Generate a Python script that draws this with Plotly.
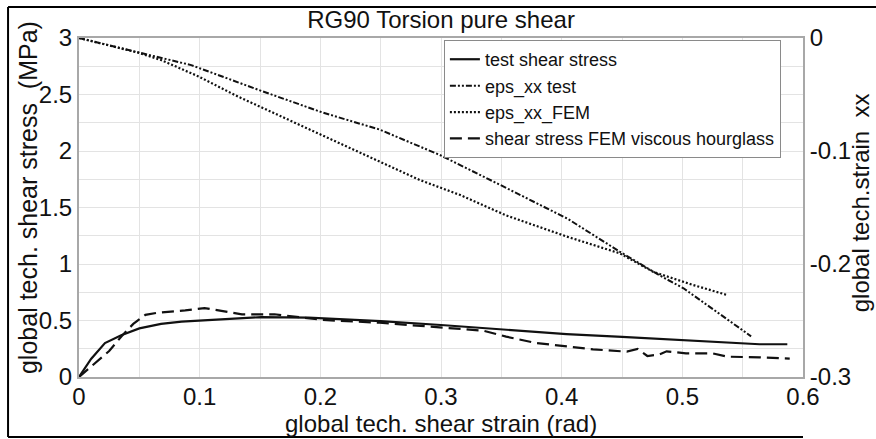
import plotly.graph_objects as go

# ---- data ----
test_x = [0.0, 0.010, 0.0215, 0.035, 0.05, 0.068, 0.085, 0.1, 0.125, 0.151, 0.19, 0.2, 0.25, 0.3, 0.35, 0.404, 0.45, 0.5, 0.564, 0.587]
test_stress = [0.0, 0.16, 0.30, 0.37, 0.43, 0.47, 0.49, 0.50, 0.515, 0.53, 0.525, 0.52, 0.495, 0.46, 0.42, 0.38, 0.355, 0.327, 0.29, 0.29]

fem_x = [0.0, 0.013, 0.025, 0.036, 0.045, 0.055, 0.066, 0.088, 0.104, 0.118, 0.135, 0.162, 0.19, 0.202, 0.249, 0.3, 0.335, 0.354, 0.379, 0.405, 0.426, 0.454, 0.463, 0.471, 0.481, 0.487, 0.503, 0.525, 0.537, 0.564, 0.589]
fem_stress = [0.0, 0.12, 0.23, 0.37, 0.47, 0.55, 0.57, 0.59, 0.61, 0.585, 0.555, 0.555, 0.52, 0.505, 0.48, 0.44, 0.41, 0.357, 0.30, 0.27, 0.245, 0.224, 0.248, 0.186, 0.20, 0.227, 0.209, 0.209, 0.18, 0.174, 0.162]

epsT_x = [0.0, 0.049, 0.093, 0.149, 0.202, 0.249, 0.299, 0.349, 0.405, 0.448, 0.481, 0.501, 0.55, 0.557]
epsT = [0.0, -0.013, -0.024, -0.046, -0.066, -0.081, -0.1035, -0.130, -0.16, -0.189, -0.210, -0.2215, -0.258, -0.264]

epsF_x = [0.0, 0.049, 0.068, 0.099, 0.132, 0.162, 0.202, 0.249, 0.2825, 0.316, 0.354, 0.405, 0.448, 0.476, 0.509, 0.537]
epsF = [0.0, -0.013, -0.0195, -0.034, -0.052, -0.0667, -0.086, -0.1094, -0.1257, -0.139, -0.157, -0.176, -0.1905, -0.207, -0.2186, -0.2274]

names = ["test shear stress", "eps_xx test", "eps_xx_FEM", "shear stress FEM viscous hourglass"]

x_ticks = [0, 0.1, 0.2, 0.3, 0.4, 0.5, 0.6]
x_labels = ["0", "0.1", "0.2", "0.3", "0.4", "0.5", "0.6"]
y_ticks = [0, 0.5, 1, 1.5, 2, 2.5, 3]
y_labels = ["0", "0.5", "1", "1.5", "2", "2.5", "3"]
y2_ticks = [-0.3, -0.2, -0.1, 0]
y2_labels = ["-0.3", "-0.2", "-0.1", "0"]

FONT = "Liberation Sans, Arial, sans-serif"
INK = "#111111"

fig = go.Figure()
fig.add_trace(go.Scatter(x=test_x, y=test_stress, name=names[0], mode="lines",
                         line=dict(color=INK, width=2.2)))
fig.add_trace(go.Scatter(x=epsT_x, y=epsT, name=names[1], mode="lines", yaxis="y2",
                         line=dict(color=INK, width=2, dash="6px,2px,2px,2px,2px,2px")))
fig.add_trace(go.Scatter(x=epsF_x, y=epsF, name=names[2], mode="lines", yaxis="y2",
                         line=dict(color=INK, width=2.2, dash="2px,2px")))
fig.add_trace(go.Scatter(x=fem_x, y=fem_stress, name=names[3], mode="lines",
                         line=dict(color=INK, width=2.2, dash="12px,6px")))

grid = "#e3e3e3"
axcol = "#a8a8a8"

fig.update_layout(
    width=876, height=439,
    margin=dict(l=79, r=73, t=38, b=62),
    paper_bgcolor="white", plot_bgcolor="white",
    font=dict(family=FONT, color=INK, size=24),
    showlegend=True,
    title=dict(text="RG90 Torsion pure shear", x=0.5035, xanchor="center", y=0.955, yanchor="middle",
               font=dict(size=24, family=FONT, color=INK)),
    xaxis=dict(range=[0, 0.6], tickvals=x_ticks, ticktext=x_labels, showgrid=True, gridcolor=grid, gridwidth=1,
               minor=dict(dtick=0.05, showgrid=True, gridcolor=grid, gridwidth=1),
               showline=True, linecolor=axcol, linewidth=2, mirror=True, zeroline=False,
               ticks="", tickfont=dict(size=24), ticklabelstandoff=-3),
    yaxis=dict(range=[0, 3], tickvals=y_ticks, ticktext=y_labels, showgrid=True, gridcolor=grid, gridwidth=1,
               minor=dict(dtick=0.25, showgrid=True, gridcolor=grid, gridwidth=1),
               showline=True, linecolor=axcol, linewidth=2, zeroline=False,
               ticks="", tickfont=dict(size=24), ticklabelstandoff=0),
    yaxis2=dict(range=[-0.3, 0], overlaying="y", side="right", tickvals=y2_ticks, ticktext=y2_labels,
                showgrid=False, zeroline=False, showline=True, linecolor=axcol, linewidth=2,
                ticks="", tickfont=dict(size=24), ticklabelstandoff=0),
    legend=dict(x=0.504, y=0.994, xanchor="left", yanchor="top", bgcolor="white",
                bordercolor="#8a8a8a", borderwidth=1, font=dict(size=18, family=FONT, color=INK),
                tracegroupgap=0, itemwidth=30),
    annotations=[
        dict(text="global tech. shear strain (rad)", xref="paper", yref="paper", x=0.4995, y=-0.138,
             xanchor="center", yanchor="middle", showarrow=False, font=dict(size=24)),
        dict(text="global tech. shear stress  (MPa)", xref="paper", yref="paper", x=-0.0704, y=0.528,
             xanchor="center", yanchor="middle", textangle=-90, showarrow=False, font=dict(size=25)),
        dict(text="global tech.strain  xx", xref="paper", yref="paper", x=1.079, y=0.513,
             xanchor="center", yanchor="middle", textangle=-90, showarrow=False, font=dict(size=24)),
    ],
    shapes=[
        dict(type="line", xref="paper", yref="paper", x0=-0.098, x1=1.11, y0=1.0914, y1=1.0914,
             line=dict(color="black", width=2)),
        dict(type="line", xref="paper", yref="paper", x0=-0.098, x1=-0.098, y0=1.0914, y1=-0.177,
             line=dict(color="black", width=2)),
        dict(type="line", xref="paper", yref="paper", x0=-0.098, x1=1.0, y0=-0.177, y1=-0.177,
             line=dict(color="black", width=2)),
    ],
)

fig.write_html("out.html")
